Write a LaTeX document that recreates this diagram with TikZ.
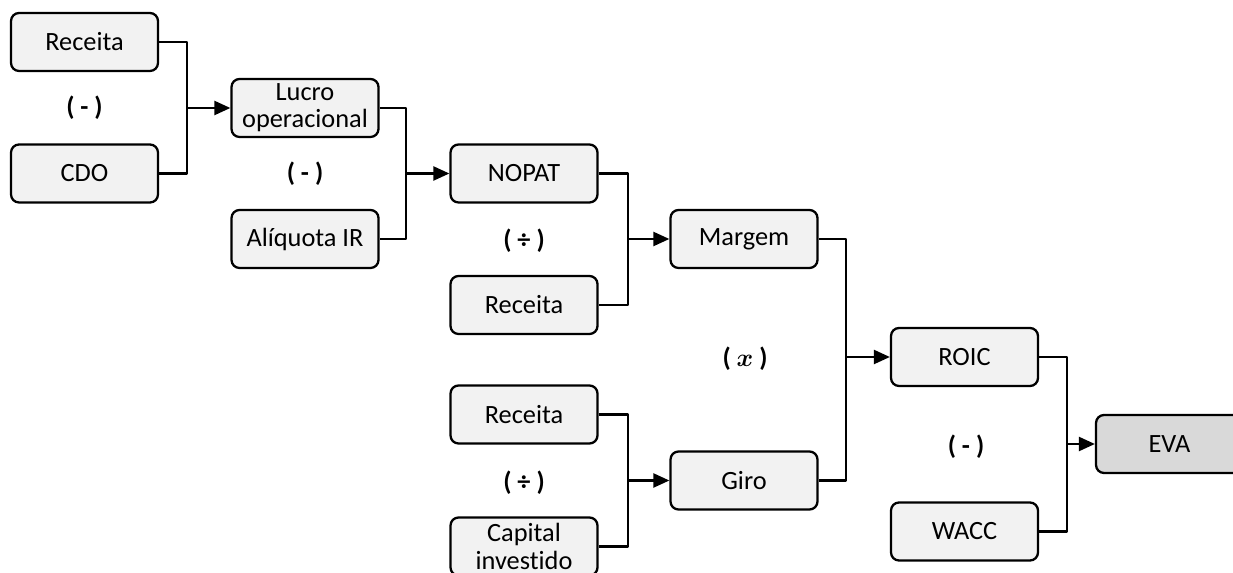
\documentclass[tikz,border=0pt]{standalone}
\usepackage{fontspec}
\setmainfont[Ligatures={NoCommon}]{Carlito}
\usepackage{amsmath}
\usetikzlibrary{arrows.meta}

\definecolor{boxgray}{HTML}{F2F2F2}
\definecolor{evagray}{HTML}{D9D9D9}

\begin{document}
\begin{tikzpicture}[x=0.02cm, y=-0.02cm, >={Triangle[length=0.32cm,width=0.28cm]}, line join=round,
    item/.style={draw, line width=1.3pt, rounded corners=0.16cm, fill=boxgray,
      minimum width=2.94cm, minimum height=1.16cm, inner sep=0pt, align=center,
      font=\fontsize{15}{15.5}\selectfont},
    result/.style={item, fill=evagray},
    oper/.style={font=\fontsize{15}{15.5}\selectfont\bfseries},
    link/.style={line width=1.3pt}]
  \clip (0,0) rectangle (1233,573);
  % first level
  \node[item] (rec1) at (84.5,42) {Receita};
  \node[item] (cdo) at (84.5,173.5) {CDO};
  \node[oper] (op1) at (84.5,108) {( - )};
  \node[item] (lucro) at (305,108) {Lucro\\operacional};
  \node[item] (aliq) at (305,239) {Alíquota IR};
  \node[oper] (op2) at (305,173.5) {( - )};
  % NOPAT and margem
  \node[item] (nopat) at (524,173.5) {NOPAT};
  \node[item] (rec2) at (524,305) {Receita};
  \node[oper] (op3) at (524,241) {( ÷ )};
  \node[item] (margem) at (744,239) {Margem};
  % giro
  \node[item] (rec3) at (524,414.5) {Receita};
  \node[item] (capital) at (524,546.5) {Capital\\investido};
  \node[oper] (op4) at (524,483) {( ÷ )};
  \node[item] (giro) at (744,480.5) {Giro};
  \node[oper] (op5) at (745,359) {( {\boldmath$x$} )};
  % ROIC and EVA
  \node[item] (roic) at (964.5,357) {ROIC};
  \node[item] (wacc) at (964.5,531.5) {WACC};
  \node[oper] (op6) at (966,447) {( - )};
  \node[result] (eva) at (1169.5,444) {EVA};
  % junctions
  \coordinate (j1) at (187,108);
  \coordinate (j2) at (406,173.5);
  \coordinate (j3) at (628,239);
  \coordinate (j4) at (628,480.5);
  \coordinate (j5) at (846,357);
  \coordinate (j6) at (1067,444);
  % connectors
  \draw[link] (rec1.east) -| (j1) |- (cdo.east);
  \draw[link,->] (j1) -- (lucro.west);
  \draw[link] (lucro.east) -| (j2) |- (aliq.east);
  \draw[link,->] (j2) -- (nopat.west);
  \draw[link] (nopat.east) -| (j3) |- (rec2.east);
  \draw[link,->] (j3) -- (margem.west);
  \draw[link] (rec3.east) -| (j4) |- (capital.east);
  \draw[link,->] (j4) -- (giro.west);
  \draw[link] (margem.east) -| (j5) |- (giro.east);
  \draw[link,->] (j5) -- (roic.west);
  \draw[link] (roic.east) -| (j6) |- (wacc.east);
  \draw[link,->] (j6) -- (eva.west);
\end{tikzpicture}
\end{document}
